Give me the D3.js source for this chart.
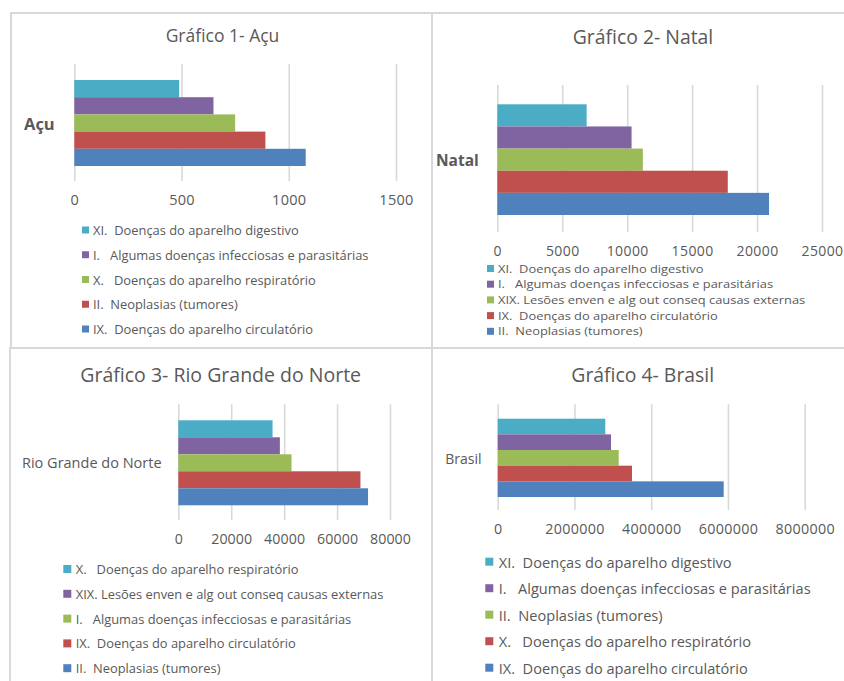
<!DOCTYPE html>
<html>
<head>
<meta charset="utf-8">
<script src="https://cdn.jsdelivr.net/npm/d3@7/dist/d3.min.js"></script>
<style>
  html, body { margin: 0; padding: 0; background: #fff; }
  svg { display: block; }
  text { font-family: "Open Sans", "Noto Sans", sans-serif; fill: #595959; }
  .legend text { white-space: pre; }
</style>
</head>
<body>
<svg id="chart" width="844" height="681"></svg>
<script>
// Office palette, top bar first
const seriesColors = ["#4BACC6", "#8064A2", "#9BBB59", "#C0504D", "#4F81BD"];

// Gráfico 1 - Açu
const acuTitle = "Gráfico 1- Açu";
const acuCategory = "Açu";
const acuCauses = [
  "XI.  Doenças do aparelho digestivo",
  "I.   Algumas doenças infecciosas e parasitárias",
  "X.   Doenças do aparelho respiratório",
  "II.  Neoplasias (tumores)",
  "IX.  Doenças do aparelho circulatório"
];
const acuValues = [489, 649, 750, 891, 1079];
const acuTicks = [0, 500, 1000, 1500];

// Gráfico 2 - Natal
const natalTitle = "Gráfico 2- Natal";
const natalCategory = "Natal";
const natalCauses = [
  "XI.  Doenças do aparelho digestivo",
  "I.   Algumas doenças infecciosas e parasitárias",
  "XIX. Lesões enven e alg out conseq causas externas",
  "IX.  Doenças do aparelho circulatório",
  "II.  Neoplasias (tumores)"
];
const natalValues = [6877, 10338, 11208, 17746, 20923];
const natalTicks = [0, 5000, 10000, 15000, 20000, 25000];

// Gráfico 3 - Rio Grande do Norte
const rnTitle = "Gráfico 3- Rio Grande do Norte";
const rnCategory = "Rio Grande do Norte";
const rnCauses = [
  "X.   Doenças do aparelho respiratório",
  "XIX. Lesões enven e alg out conseq causas externas",
  "I.   Algumas doenças infecciosas e parasitárias",
  "IX.  Doenças do aparelho circulatório",
  "II.  Neoplasias (tumores)"
];
const rnValues = [35620, 38380, 42790, 68830, 71700];
const rnTicks = [0, 20000, 40000, 60000, 80000];

// Gráfico 4 - Brasil
const brTitle = "Gráfico 4- Brasil";
const brCategory = "Brasil";
const brCauses = [
  "XI.  Doenças do aparelho digestivo",
  "I.   Algumas doenças infecciosas e parasitárias",
  "II.  Neoplasias (tumores)",
  "X.   Doenças do aparelho respiratório",
  "IX.  Doenças do aparelho circulatório"
];
const brValues = [2804000, 2953000, 3153000, 3500000, 5889000];
const brTicks = [0, 2000000, 4000000, 6000000, 8000000];

// Layout of each of the four chart boxes
const panels = [
  {
    title: acuTitle, category: acuCategory, causes: acuCauses, values: acuValues, ticks: acuTicks,
    frame: [11, 13, 421, 335],
    titleX: 222.5, titleY: 35, titleSize: 17.5,
    x0: 74.3, x1: 396, gridTop: 64, gridBottom: 181, barTop: 80, barBottom: 166,
    tickY: 200, tickSize: 14.5, tickSpacing: 0.3,
    catX: 24, catY: 123, catSize: 16.5, catWeight: "bold",
    legX: 82, legTextX: 93, legY: 230, legStep: 24.75, legSize: 12.9, legStretch: 1, swatch: 7
  },
  {
    title: natalTitle, category: natalCategory, causes: natalCauses, values: natalValues, ticks: natalTicks,
    frame: [432, 13, 430, 335],
    titleX: 643, titleY: 36, titleSize: 19.4,
    x0: 497.3, x1: 822, gridTop: 85, gridBottom: 232, barTop: 104.3, barBottom: 215,
    tickY: 251.5, tickSize: 14, tickSpacing: 0.4,
    catX: 436, catY: 160, catSize: 15.5, catWeight: "bold",
    // tightly stacked rows: narrower type, widened horizontally
    legX: 487, legTextX: 498, legY: 268.5, legStep: 15.7, legSize: 11.3, legStretch: 1.14, swatch: 7
  },
  {
    title: rnTitle, category: rnCategory, causes: rnCauses, values: rnValues, ticks: rnTicks,
    frame: [10, 348, 422, 345],
    titleX: 220.7, titleY: 374, titleSize: 19.5,
    x0: 178.3, x1: 390, gridTop: 404.3, gridBottom: 520, barTop: 420.3, barBottom: 505.3,
    tickY: 539.3, tickSize: 14.2, tickSpacing: 0.1,
    catX: 22, catY: 462.3, catSize: 14.5, catWeight: "normal",
    legX: 63.3, legTextX: 75.7, legY: 569, legStep: 24.8, legSize: 12.9, legStretch: 1, swatch: 8
  },
  {
    title: brTitle, category: brCategory, causes: brCauses, values: brValues, ticks: brTicks,
    frame: [432, 348, 430, 345],
    titleX: 642.7, titleY: 374, titleSize: 19.4,
    x0: 497.7, x1: 804.7, gridTop: 404.3, gridBottom: 510, barTop: 418.7, barBottom: 497,
    tickY: 529.3, tickSize: 14.3, tickSpacing: 0.3,
    catX: 445.3, catY: 458.3, catSize: 14, catWeight: "normal",
    legX: 485.3, legTextX: 498.7, legY: 561.7, legStep: 26.5, legSize: 14.6, legStretch: 1, swatch: 8
  }
];

const svg = d3.select("#chart");

panels.forEach(p => {
  const g = svg.append("g");

  // chart box
  g.append("rect")
    .attr("x", p.frame[0]).attr("y", p.frame[1])
    .attr("width", p.frame[2]).attr("height", p.frame[3])
    .attr("fill", "#fff").attr("stroke", "#d9d9d9").attr("stroke-width", 2);

  // title
  g.append("text")
    .attr("x", p.titleX).attr("y", p.titleY)
    .attr("text-anchor", "middle").attr("dominant-baseline", "central")
    .attr("font-size", p.titleSize)
    .text(p.title);

  const x = d3.scaleLinear()
    .domain([0, d3.max(p.ticks)])
    .range([p.x0, p.x1]);

  const y = d3.scaleBand()
    .domain(d3.range(p.causes.length))
    .range([p.barTop, p.barBottom])
    .padding(0);

  // value axis with vertical gridlines
  const axis = d3.axisBottom(x)
    .tickValues(p.ticks)
    .tickFormat(d3.format("d"))
    .tickSizeInner(-(p.gridBottom - p.gridTop))
    .tickSizeOuter(0);

  const ax = g.append("g")
    .attr("transform", `translate(0,${p.gridBottom})`)
    .call(axis);
  ax.select(".domain").remove();
  ax.selectAll(".tick line")
    .attr("stroke", "#d9d9d9").attr("stroke-width", 1.6);
  ax.selectAll(".tick text")
    .attr("y", p.tickY - p.gridBottom).attr("dy", "0.35em")
    .attr("font-size", p.tickSize)
    .attr("letter-spacing", p.tickSpacing)
    .attr("font-family", null)
    .attr("fill", "#595959");

  // bars
  g.append("g").selectAll("rect")
    .data(p.values)
    .join("rect")
    .attr("x", x(0))
    .attr("y", (d, i) => y(i))
    .attr("width", d => x(d) - x(0))
    .attr("height", y.bandwidth())
    .attr("fill", (d, i) => seriesColors[i]);

  // category label
  g.append("text")
    .attr("x", p.catX).attr("y", p.catY)
    .attr("dominant-baseline", "central")
    .attr("font-size", p.catSize)
    .attr("font-weight", p.catWeight)
    .text(p.category);

  // legend
  const leg = g.append("g").attr("class", "legend")
    .selectAll("g")
    .data(p.causes)
    .join("g")
    .attr("transform", (d, i) => `translate(0,${p.legY + i * p.legStep})`);

  leg.append("rect")
    .attr("x", p.legX).attr("y", -p.swatch / 2)
    .attr("width", p.swatch).attr("height", p.swatch)
    .attr("fill", (d, i) => seriesColors[i]);

  leg.append("text")
    .attr("transform", `translate(${p.legTextX},0) scale(${p.legStretch},1)`)
    .attr("x", 0).attr("y", 0)
    .attr("dominant-baseline", "central")
    .attr("font-size", p.legSize)
    .text(d => d);
});
</script>
</body>
</html>
